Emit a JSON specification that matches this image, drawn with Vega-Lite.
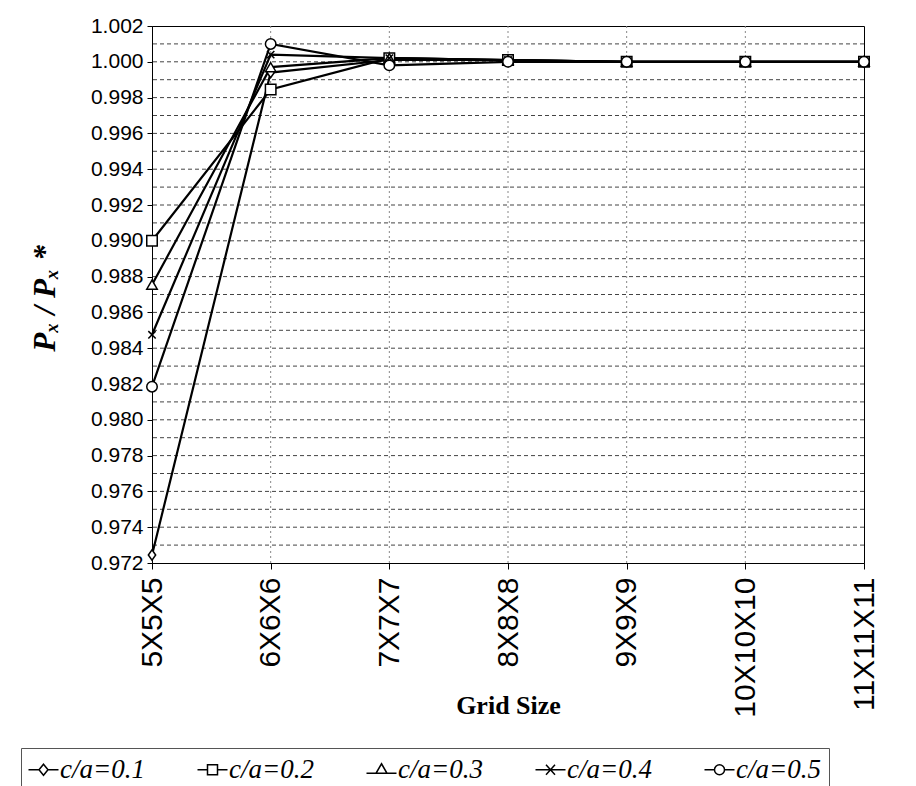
{
  "$schema": "https://vega.github.io/schema/vega-lite/v6.json",
  "width": 712,
  "height": 537,
  "autosize": "none",
  "padding": {"left": 152, "top": 26, "right": 52, "bottom": 223},
  "background": "white",
  "config": {
    "view": {"stroke": "black", "strokeWidth": 1},
    "axis": {"labelFont": "Liberation Sans", "labelColor": "black", "domainColor": "black", "tickColor": "black"}
  },
  "data": {
    "values": [
      {"grid": "5X5X5", "series": "c/a=0.1", "v": 0.97245},
      {"grid": "6X6X6", "series": "c/a=0.1", "v": 0.9994},
      {"grid": "7X7X7", "series": "c/a=0.1", "v": 1.0001},
      {"grid": "8X8X8", "series": "c/a=0.1", "v": 1.0001},
      {"grid": "9X9X9", "series": "c/a=0.1", "v": 1.0000},
      {"grid": "10X10X10", "series": "c/a=0.1", "v": 1.0000},
      {"grid": "11X11X11", "series": "c/a=0.1", "v": 1.0000},
      {"grid": "5X5X5", "series": "c/a=0.2", "v": 0.9900},
      {"grid": "6X6X6", "series": "c/a=0.2", "v": 0.99845},
      {"grid": "7X7X7", "series": "c/a=0.2", "v": 1.0002},
      {"grid": "8X8X8", "series": "c/a=0.2", "v": 1.0001},
      {"grid": "9X9X9", "series": "c/a=0.2", "v": 1.0000},
      {"grid": "10X10X10", "series": "c/a=0.2", "v": 1.0000},
      {"grid": "11X11X11", "series": "c/a=0.2", "v": 1.0000},
      {"grid": "5X5X5", "series": "c/a=0.3", "v": 0.98755},
      {"grid": "6X6X6", "series": "c/a=0.3", "v": 0.9997},
      {"grid": "7X7X7", "series": "c/a=0.3", "v": 1.0002},
      {"grid": "8X8X8", "series": "c/a=0.3", "v": 1.0001},
      {"grid": "9X9X9", "series": "c/a=0.3", "v": 1.0000},
      {"grid": "10X10X10", "series": "c/a=0.3", "v": 1.0000},
      {"grid": "11X11X11", "series": "c/a=0.3", "v": 1.0000},
      {"grid": "5X5X5", "series": "c/a=0.4", "v": 0.98475},
      {"grid": "6X6X6", "series": "c/a=0.4", "v": 1.0004},
      {"grid": "7X7X7", "series": "c/a=0.4", "v": 1.0002},
      {"grid": "8X8X8", "series": "c/a=0.4", "v": 1.0001},
      {"grid": "9X9X9", "series": "c/a=0.4", "v": 1.0000},
      {"grid": "10X10X10", "series": "c/a=0.4", "v": 1.0000},
      {"grid": "11X11X11", "series": "c/a=0.4", "v": 1.0000},
      {"grid": "5X5X5", "series": "c/a=0.5", "v": 0.98185},
      {"grid": "6X6X6", "series": "c/a=0.5", "v": 1.0010},
      {"grid": "7X7X7", "series": "c/a=0.5", "v": 0.9998},
      {"grid": "8X8X8", "series": "c/a=0.5", "v": 1.0000},
      {"grid": "9X9X9", "series": "c/a=0.5", "v": 1.0000},
      {"grid": "10X10X10", "series": "c/a=0.5", "v": 1.0000},
      {"grid": "11X11X11", "series": "c/a=0.5", "v": 1.0000}
    ]
  },
  "encoding": {
    "x": {
      "field": "grid", "type": "ordinal",
      "sort": ["5X5X5", "6X6X6", "7X7X7", "8X8X8", "9X9X9", "10X10X10", "11X11X11"],
      "scale": {"type": "point", "padding": 0},
      "axis": {
        "title": "Grid Size", "titleFont": "Liberation Serif", "titleFontSize": 26, "titleFontWeight": "bold", "titleColor": "black",
        "titleBaseline": "alphabetic", "titleY": 150,
        "labelAngle": 270, "labelAlign": "right", "labelBaseline": "middle", "labelFontSize": 30, "labelPadding": 8,
        "tickSize": 6, "grid": false, "labelOverlap": false
      }
    },
    "y": {
      "field": "v", "type": "quantitative",
      "scale": {"domain": [0.972, 1.002], "nice": false, "zero": false},
      "axis": {
        "values": [0.972, 0.974, 0.976, 0.978, 0.98, 0.982, 0.984, 0.986, 0.988, 0.99, 0.992, 0.994, 0.996, 0.998, 1.0, 1.002],
        "format": ".3f", "labelFontSize": 21, "labelPadding": 4, "tickSize": 5, "grid": false, "labelOverlap": false,
        "title": "Pₓ / Pₓ *", "titleFont": "Liberation Serif", "titleFontSize": 31, "titleFontWeight": "bold", "titleFontStyle": "italic",
        "titleColor": "black", "titleAngle": 270, "titleBaseline": "middle", "titleX": -107, "titleY": 272
      }
    }
  },
  "layer": [
    {
      "mark": {"type": "rule", "color": "#444", "strokeDash": [4, 3], "strokeWidth": 1},
      "data": {"values": [{"v": 0.973}, {"v": 0.974}, {"v": 0.975}, {"v": 0.976}, {"v": 0.977}, {"v": 0.978}, {"v": 0.979}, {"v": 0.980}, {"v": 0.981}, {"v": 0.982}, {"v": 0.983}, {"v": 0.984}, {"v": 0.985}, {"v": 0.986}, {"v": 0.987}, {"v": 0.988}, {"v": 0.989}, {"v": 0.990}, {"v": 0.991}, {"v": 0.992}, {"v": 0.993}, {"v": 0.994}, {"v": 0.995}, {"v": 0.996}, {"v": 0.997}, {"v": 0.998}, {"v": 0.999}, {"v": 1.000}, {"v": 1.001}]},
      "encoding": {"x": null}
    },
    {
      "mark": {"type": "rule", "color": "#888", "strokeDash": [2, 3], "strokeWidth": 1},
      "data": {"values": [{"grid": "6X6X6"}, {"grid": "7X7X7"}, {"grid": "8X8X8"}, {"grid": "9X9X9"}, {"grid": "10X10X10"}]},
      "encoding": {"y": null}
    },
    {
      "mark": {"type": "line", "color": "black", "strokeWidth": 2.2},
      "encoding": {"detail": {"field": "series"}}
    },
    {
      "mark": {"type": "point", "filled": true, "fill": "white", "stroke": "black", "strokeWidth": 1.5, "size": 110, "opacity": 1},
      "encoding": {
        "shape": {
          "field": "series", "type": "nominal",
          "scale": {"domain": ["c/a=0.1", "c/a=0.2", "c/a=0.3", "c/a=0.4", "c/a=0.5"],
                    "range": ["M0,-1L0.7,0L0,1L-0.7,0Z", "square", "triangle-up", "M-0.7,-0.7L0.7,0.7M-0.7,0.7L0.7,-0.7", "circle"]},
          "legend": null
        }
      }
    },
    {
      "transform": [{"filter": "datum.v > 2"}],
      "mark": {"type": "point", "filled": true, "fill": "white", "stroke": "black", "strokeWidth": 1.5, "size": 100, "opacity": 1},
      "encoding": {
        "shape": {
          "field": "series", "type": "nominal",
          "scale": {"domain": ["c/a=0.1", "c/a=0.2", "c/a=0.3", "c/a=0.4", "c/a=0.5"],
                    "range": [
                      "M-2.8,0H-0.7M1.1,0H3.2M0.2,-1.1L1.1,0L0.2,1.1L-0.7,0Z",
                      "M-2.8,0H-0.8M1.2,0H3.2M-0.8,-1H1.2V1H-0.8Z",
                      "M-2.8,0.7H-0.9M1.3,0.7H3.2M0.2,-1.2L1.3,0.7H-0.9Z",
                      "M-2.8,0H3.2M-0.7,-1L1.1,1M-0.7,1L1.1,-1",
                      "M-2.8,0H-0.8M1.2,0H3.2M-0.8,0A1,1 0 1,0 1.2,0A1,1 0 1,0 -0.8,0Z"
                    ]},
          "legend": {
            "title": null, "orient": "none", "legendX": -131, "legendY": 722, "direction": "horizontal",
            "labelFont": "Liberation Serif", "labelFontStyle": "italic", "labelFontSize": 27, "labelColor": "black", "labelLimit": 200,
            "columnPadding": 49, "padding": 8, "strokeColor": "#555"
          }
        }
      }
    }
  ],
  "resolve": {"scale": {"shape": "independent"}, "legend": {"shape": "independent"}}
}
